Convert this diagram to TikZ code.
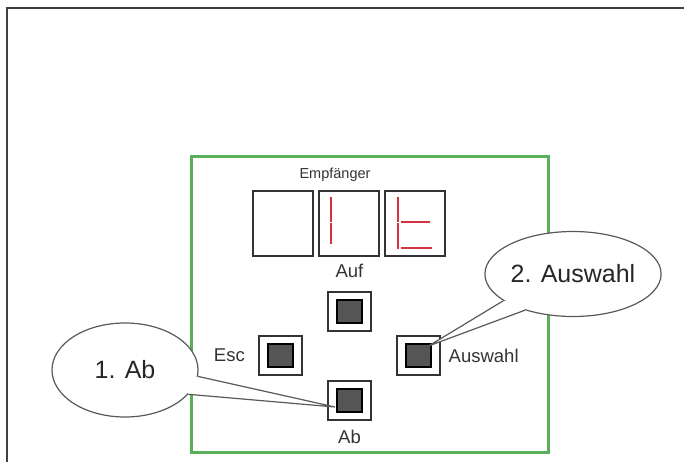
\documentclass[tikz,border=0pt]{standalone}
\usepackage{fontspec}
\setmainfont{Liberation Sans}
\usetikzlibrary{shapes.geometric, positioning, calc}
\definecolor{boxgreen}{RGB}{88,176,88}
\definecolor{segred}{RGB}{212,52,66}
\definecolor{keygray}{RGB}{85,85,85}

\begin{document}
\begin{tikzpicture}[x=1pt, y=-1pt,
    digit/.style={draw=black!80, line width=2pt, minimum width=60pt, minimum height=64pt, inner sep=0pt},
    seg/.style={segred, line width=2.5pt},
    btn/.style={draw=black!80, line width=2pt, minimum width=43pt, minimum height=39pt, inner sep=0pt},
    btnkey/.style={draw=black, fill=keygray, line width=2pt, minimum width=25pt, minimum height=23pt, inner sep=0pt},
    lbl/.style={inner sep=0pt, text=black!80, font=\fontsize{18.5}{20}\selectfont},
    bubble/.style={ellipse, draw=black!65, line width=1.2pt, fill=white, inner sep=0pt, text=black!85, font=\fontsize{25}{28}\selectfont},
    tail/.style={draw=black!65, line width=1.2pt}]
    \useasboundingbox (0,0) rectangle (684,462);
    \draw[black!75, line width=2.5pt] (7,462) -- (7,8) -- (684,8);
    \draw[boxgreen, line width=3pt] (191,157) rectangle (548,452);

    % receiver display
    \node[anchor=base, inner sep=0pt, text=black!80, font=\fontsize{14.5}{16}\selectfont] (title) at (335,179) {Empfänger};
    \node[digit] (dig1) at (283,223.5) {};
    \node[digit] (dig2) at (348.5,223.5) {};
    \node[digit] (dig3) at (415,223.5) {};
    \draw[seg] ($(dig2.north west)+(13.5,6.5)$) -- ++(0,24.5)
               ($(dig2.north west)+(13.5,32.5)$) -- ++(0,21);
    \draw[seg] ($(dig3.north west)+(14,6.5)$) -- ++(0,24.5)
               ($(dig3.north west)+(14,32.5)$) -- ++(0,26)
               ($(dig3.north west)+(16.5,31.5)$) -- ++(29.5,0)
               ($(dig3.north west)+(16.5,57.5)$) -- ++(31.5,0);

    % keys
    \foreach \n/\x/\y in {auf/349.5/311, esc/280.5/355.5, ausw/418/355.5, ab/349.5/400}{
        \node[btn] (\n) at (\x,\y) {};
        \node[btnkey] (\n-key) at (\n) {};
    }
    \node[lbl, above=13pt of auf] (auf-lbl) {Auf};
    \node[lbl, left=13pt of esc] (esc-lbl) {Esc};
    \node[lbl, right=8pt of ausw] (ausw-lbl) {Auswahl};
    \node[lbl, below=9pt of ab] (ab-lbl) {Ab};

    % callouts
    \node[bubble, minimum width=146pt, minimum height=94pt] (ab-call) at (125,370) {1. Ab};
    \node[bubble, minimum width=160pt, minimum height=85pt] (ausw-call) at (573,274) {2. Auswahl};
    \coordinate (ab-tip) at ($(ab-key.west)+(-1,7)$);
    \coordinate (ausw-tip) at ($(ausw-key.north east)+(-3,3)$);
    \fill[white] (ab-call.-5) -- (ab-tip) -- (ab-call.-21) -- ($(ab-call.center)!0.85!(ab-call.-13)$) -- cycle;
    \draw[tail] (ab-call.-5) -- (ab-tip) -- (ab-call.-21);
    \fill[white] (ausw-call.201) -- (ausw-tip) -- (ausw-call.217) -- ($(ausw-call.center)!0.85!(ausw-call.209)$) -- cycle;
    \draw[tail] (ausw-call.201) -- (ausw-tip) -- (ausw-call.217);
\end{tikzpicture}
\end{document}
